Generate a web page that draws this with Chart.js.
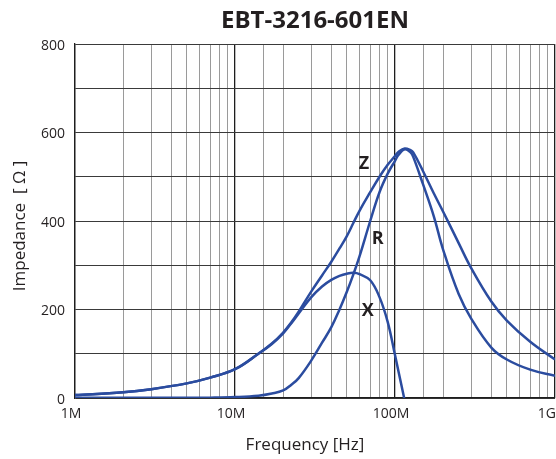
<!DOCTYPE html>
<html>
<head>
<meta charset="utf-8">
<title>EBT-3216-601EN</title>
<script src="https://cdn.jsdelivr.net/npm/chart.js@4.4.1/dist/chart.umd.min.js"></script>
<style>
  html, body { margin: 0; padding: 0; background: #fff; }
  canvas { display: block; }
</style>
</head>
<body>
<canvas id="impedanceChart" width="556" height="459"></canvas>
<script>
// frequency points [MHz] and impedance values [ohm]
const freqMHz = [1, 2, 3, 5, 7, 10, 14, 17, 20, 22.5, 25, 30, 35, 40, 45, 50, 55, 60, 70, 80, 90, 100, 105, 115, 125, 130, 150, 175, 200, 250, 300, 400, 500, 700, 1000];
const zValues = [6.5, 13, 20, 33, 46, 65, 100, 123, 148, 171, 195, 241, 277, 308, 338, 366, 396, 423, 465, 500, 527, 547, 556, 564, 560, 555, 512, 462, 421, 350, 293, 218, 175, 127, 87];
const rValues = [0.5, 0.5, 0.5, 0.5, 0.8, 2, 5, 10, 17, 30, 45, 85, 125, 160, 200, 240, 280, 320, 400, 465, 507, 536, 549, 562, 555, 545, 482, 410, 335, 235, 179, 114, 87, 64, 50];
const xValues = [6.5, 13, 20, 33, 46, 65, 100, 122, 146, 169, 191, 228, 252, 267, 276, 281, 283, 280, 266, 228, 172, 97, 61, -6, null, null, null, null, null, null, null, null, null, null, null];

const xTickValues = [1e6, 1e7, 1e8, 1e9];
const xTickLabels = ["1M", "10M", "100M", "1G"];
const yTickValues = [0, 200, 400, 600, 800];

// where the Z / R / X letters sit (frequency MHz, impedance)
const curveNames = ["Z", "R", "X"];
const curveLabelFreq = [64, 78, 67.5];
const curveLabelImp = [528, 360, 196];

const lineColor = "#2b4c9f";
const textColor = "#231f20";

function toPoints(values) {
    return freqMHz.map((f, i) => ({ x: f * 1e6, y: values[i] }));
}

function isDecade(v) {
    const l = Math.log10(v);
    return Math.abs(l - Math.round(l)) < 1e-6;
}

// tick labels, titles and curve letters
const textPlugin = {
    id: "chartText",
    afterDraw(chart) {
        const ctx = chart.ctx;
        const xs = chart.scales.x;
        const ys = chart.scales.y;
        const area = chart.chartArea;
        ctx.save();
        ctx.fillStyle = textColor;
        ctx.textBaseline = "alphabetic";

        // title
        ctx.font = "bold 24px 'Open Sans'";
        ctx.textAlign = "center";
        ctx.fillText("EBT-3216-601EN", (area.left + area.right) / 2, 28);

        // y tick labels
        ctx.font = "14px 'Open Sans'";
        ctx.textAlign = "right";
        yTickValues.forEach(v => {
            ctx.fillText(String(v), area.left - 10, ys.getPixelForValue(v) + 5.5);
        });

        // x tick labels
        ctx.textAlign = "center";
        xTickValues.forEach((v, i) => {
            const w = ctx.measureText(xTickLabels[i]).width;
            let cx = xs.getPixelForValue(v) - 4;
            cx = Math.min(cx, chart.width - w / 2);
            ctx.fillText(xTickLabels[i], cx, area.bottom + 20);
        });

        // axis titles
        ctx.font = "17px 'Open Sans'";
        ctx.fillText("Frequency [Hz]", 305, 450);
        ctx.save();
        ctx.translate(25, 226);
        ctx.rotate(-Math.PI / 2);
        ctx.fillText("Impedance  [ \u03A9 ]", 0, 0);
        ctx.restore();

        // curve letters
        ctx.font = "bold 18px 'Open Sans'";
        ctx.textBaseline = "middle";
        curveNames.forEach((name, i) => {
            ctx.fillText(name, xs.getPixelForValue(curveLabelFreq[i] * 1e6), ys.getPixelForValue(curveLabelImp[i]));
        });
        ctx.restore();
    }
};

const ctx = document.getElementById("impedanceChart").getContext("2d");

new Chart(ctx, {
    type: "line",
    data: {
        datasets: [
            { label: "Z", data: toPoints(zValues) },
            { label: "R", data: toPoints(rValues) },
            { label: "X", data: toPoints(xValues) }
        ].map(ds => Object.assign(ds, {
            borderColor: lineColor,
            borderWidth: 2.5,
            pointRadius: 0,
            fill: false,
            tension: 0.4,
            spanGaps: false
        }))
    },
    options: {
        responsive: false,
        animation: false,
        devicePixelRatio: 1,
        layout: { padding: { left: 75, right: 1, top: 44, bottom: 61 } },
        plugins: {
            legend: { display: false },
            tooltip: { enabled: false },
            title: { display: false }
        },
        scales: {
            x: {
                type: "logarithmic",
                min: 1e6,
                max: 1e9,
                ticks: { display: false },
                grid: {
                    drawTicks: false,
                    color: c => (c.tick && isDecade(c.tick.value)) ? "#1e1e1e" : "#9a9a9a",
                    lineWidth: c => (c.tick && isDecade(c.tick.value)) ? 1.3 : 1
                },
                border: { color: "#1e1e1e", width: 1.3 }
            },
            y: {
                min: 0,
                max: 800,
                ticks: { display: false, stepSize: 100 },
                grid: { drawTicks: false, color: "#3a3a3a", lineWidth: 1 },
                border: { color: "#1e1e1e", width: 1.3 }
            }
        }
    },
    plugins: [textPlugin]
});
</script>
</body>
</html>
